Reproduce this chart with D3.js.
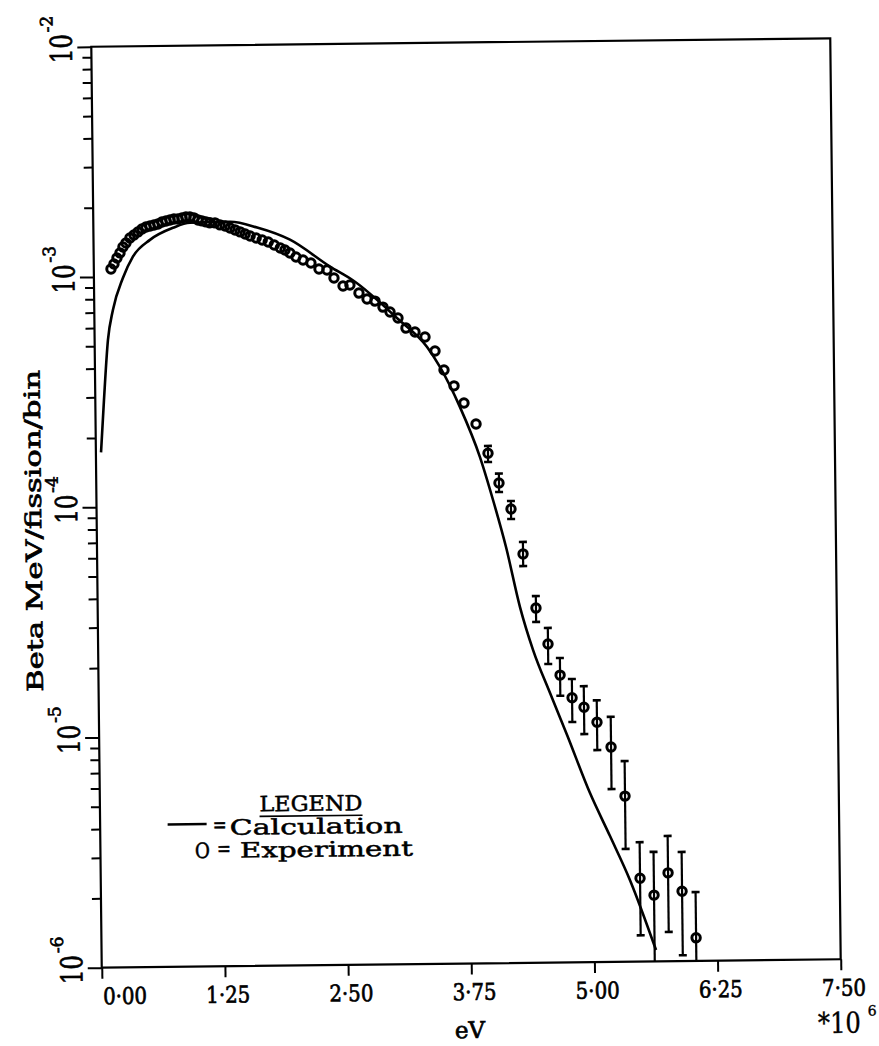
<!DOCTYPE html>
<html><head><meta charset="utf-8">
<script src="https://cdn.jsdelivr.net/npm/d3@7"></script>
<style>body{margin:0;background:#fff} svg{display:block}</style>
</head><body>
<svg id="c" width="879" height="1046"></svg>
<script>
// ---- data (energy in MeV, i.e. eV * 10^6) ----
const calcE = [0.052,0.088,0.135,0.189,0.294,0.398,0.573,0.808,0.981,1.387,1.662,1.994,2.397,2.631,3.082,3.373,3.501,3.700,3.897,4.024,4.151,4.286,4.414,4.581,4.749,4.975,5.173,5.371,5.627];
const calcV = [1.73e-4,2.92e-4,5.31e-4,7.17e-4,9.86e-4,1.22e-3,1.44e-3,1.62e-3,1.70e-3,1.71e-3,1.61e-3,1.42e-3,1.08e-3,9.37e-4,6.34e-4,4.78e-4,3.91e-4,2.61e-4,1.58e-4,1.03e-4,6.41e-5,3.51e-5,2.28e-5,1.48e-5,9.72e-6,5.42e-6,3.52e-6,2.26e-6,1.12e-6];

const expE = [0.174,0.205,0.236,0.267,0.298,0.329,0.370,0.411,0.452,0.493,0.534,0.575,0.616,0.656,0.697,0.738,0.779,0.819,0.860,0.901,0.941,0.981,1.022,1.063,1.103,1.144,1.184,1.235,1.286,1.337,1.387,1.438,1.489,1.540,1.590,1.651,1.712,1.773,1.834,1.895,1.942,1.992,2.053,2.124,2.204,2.285,2.366,2.436,2.527,2.597,2.688,2.769,2.850,2.930,3.001,3.081,3.161,3.252,3.353,3.453,3.542,3.642,3.741,3.861,3.979,4.087,4.206,4.323,4.448,4.566,4.685,4.804,4.924,5.054,5.194,5.330,5.473,5.613,5.758,5.898,6.035];
const expV = [1.081e-3,1.136e-3,1.206e-3,1.268e-3,1.345e-3,1.400e-3,1.471e-3,1.515e-3,1.561e-3,1.606e-3,1.638e-3,1.654e-3,1.670e-3,1.686e-3,1.720e-3,1.736e-3,1.753e-3,1.770e-3,1.769e-3,1.786e-3,1.803e-3,1.802e-3,1.784e-3,1.748e-3,1.730e-3,1.712e-3,1.696e-3,1.694e-3,1.660e-3,1.641e-3,1.607e-3,1.575e-3,1.543e-3,1.511e-3,1.480e-3,1.449e-3,1.420e-3,1.391e-3,1.349e-3,1.308e-3,1.281e-3,1.243e-3,1.193e-3,1.157e-3,1.122e-3,1.056e-3,1.044e-3,9.63e-4,8.88e-4,8.96e-4,8.26e-4,7.78e-4,7.61e-4,7.16e-4,6.81e-4,6.41e-4,5.79e-4,5.56e-4,5.28e-4,4.59e-4,3.79e-4,3.23e-4,2.72e-4,2.20e-4,1.64e-4,1.217e-4,9.37e-5,5.97e-5,3.47e-5,2.42e-5,1.77e-5,1.41e-5,1.28e-5,1.10e-5,8.57e-6,5.24e-6,2.30e-6,1.94e-6,2.42e-6,2.01e-6,1.26e-6];
// error bars (only for the high-energy points)
const errE  = [3.979,4.087,4.206,4.323,4.448,4.566,4.685,4.804,4.924,5.054,5.194,5.330,5.473,5.613,5.758,5.898,6.035];
const errLo = [1.503e-4,1.112e-4,8.48e-5,5.29e-5,3.02e-5,1.98e-5,1.44e-5,1.106e-5,9.79e-6,8.33e-6,5.63e-6,3.09e-6,1.30e-6,1.0e-6,1.34e-6,1.06e-6,1.0e-6];
const errHi = [1.765e-4,1.337e-4,1.015e-4,6.73e-5,3.91e-5,2.84e-5,2.10e-5,1.70e-5,1.58e-5,1.37e-5,1.16e-5,7.44e-6,3.30e-6,2.99e-6,3.50e-6,2.98e-6,1.99e-6];

const xTicks = [0,1.25,2.5,3.75,5,6.25,7.5];
const xTickLabels = ["0·00","1·25","2·50","3·75","5·00","6·25","7·50"];
const yDecades = [1e-6,1e-5,1e-4,1e-3,1e-2];
const yExponents = ["-6","-5","-4","-3","-2"];

// ---- layout ----
const L=96.5,R=835.5,T=42.5,B=963.5;
const FONT="DejaVu Serif";
const TS=0.7; // text stroke for a bolder print look
const x=d3.scaleLinear().domain([0,7.5]).range([L,R]);
const y=d3.scaleLog().domain([1e-6,1e-2]).range([B,T]);
const svg=d3.select("#c");
svg.append("rect").attr("width",879).attr("height",1046).attr("fill","#fff");
const g=svg.append("g").attr("transform","rotate(-0.65,466,503)");

// frame
g.append("rect").attr("x",L).attr("y",T).attr("width",R-L).attr("height",B-T)
  .attr("fill","none").attr("stroke","#000").attr("stroke-width",2.2);

// y ticks
const minor=[];
yDecades.slice(0,4).forEach(d=>{for(let k=2;k<=9;k++) minor.push(d*k);});
const yMaj=g.append("g").attr("transform",`translate(${L},0)`)
  .call(d3.axisLeft(y).tickValues(yDecades).tickSize(14).tickFormat(""));
const yMin=g.append("g").attr("transform",`translate(${L},0)`)
  .call(d3.axisLeft(y).tickValues(minor).tickSize(9).tickFormat(""));
[yMaj,yMin].forEach(a=>{a.select(".domain").remove();a.selectAll("line").attr("stroke","#000").attr("stroke-width",2);});

// x ticks
const xAx=g.append("g").attr("transform",`translate(0,${B})`)
  .call(d3.axisBottom(x).tickValues(xTicks).tickSize(11).tickFormat(""));
xAx.select(".domain").remove();
xAx.selectAll("line").attr("stroke","#000").attr("stroke-width",2);

// x tick labels
g.selectAll(".xl").data(xTicks).enter().append("text")
  .attr("x",(d,i)=>x(d)+(i===0?23:3)).attr("y",1000)
  .attr("text-anchor","middle").attr("font-family",FONT).attr("font-size",23)
  .attr("textLength",44).attr("lengthAdjust","spacingAndGlyphs")
  .attr("stroke","#000").attr("stroke-width",TS)
  .text((d,i)=>xTickLabels[i]);

// y tick labels (rotated)
yDecades.forEach((d,i)=>{
  const t=g.append("g").attr("transform",`translate(77,${y(d)+16}) rotate(-90)`)
    .append("text").attr("font-family",FONT).attr("stroke","#000").attr("stroke-width",TS);
  t.append("tspan").attr("font-size",30).attr("textLength",29).attr("lengthAdjust","spacingAndGlyphs").text("10");
  t.append("tspan").attr("font-size",17).attr("dy",-19).attr("dx",2).text(yExponents[i]);
});

// axis titles
g.append("g").attr("transform","translate(41,526) rotate(-90)")
  .append("text").attr("text-anchor","middle").attr("font-family",FONT).attr("font-size",22)
  .attr("stroke","#000").attr("stroke-width",TS)
  .attr("textLength",322).attr("lengthAdjust","spacingAndGlyphs")
  .text("Beta MeV/fission/bin");
g.append("text").attr("x",464).attr("y",1038).attr("text-anchor","middle")
  .attr("font-family",FONT).attr("font-size",23).attr("stroke","#000").attr("stroke-width",TS).text("eV");
g.append("text").attr("x",812).attr("y",1037).attr("font-family",FONT).attr("stroke","#000").attr("stroke-width",0.4)
  .attr("font-size",29).attr("textLength",43).attr("lengthAdjust","spacingAndGlyphs").text("*10");
g.append("text").attr("x",862).attr("y",1020).attr("font-family",FONT).attr("stroke","#000").attr("stroke-width",0.4)
  .attr("font-size",14).text("6");

// calculation curve
const calc=calcE.map((e,i)=>[e,calcV[i]]);
g.append("path").datum(calc)
  .attr("d",d3.line().x(d=>x(d[0])).y(d=>y(d[1])).curve(d3.curveMonotoneX))
  .attr("fill","none").attr("stroke","#000").attr("stroke-width",2.6);

// error bars
const err=errE.map((e,i)=>({e,lo:errLo[i],hi:errHi[i]}));
const eb=g.append("g").attr("stroke","#000").attr("stroke-width",2.2);
eb.selectAll(".v").data(err).enter().append("line")
  .attr("x1",d=>x(d.e)).attr("x2",d=>x(d.e)).attr("y1",d=>y(d.lo)).attr("y2",d=>y(d.hi));
eb.selectAll(".ct").data(err).enter().append("line")
  .attr("x1",d=>x(d.e)-4).attr("x2",d=>x(d.e)+4).attr("y1",d=>y(d.hi)).attr("y2",d=>y(d.hi)).attr("stroke-width",2.6);
eb.selectAll(".cb").data(err.filter(d=>d.lo>1.0e-6)).enter().append("line")
  .attr("x1",d=>x(d.e)-4).attr("x2",d=>x(d.e)+4).attr("y1",d=>y(d.lo)).attr("y2",d=>y(d.lo)).attr("stroke-width",2.6);

// experiment points
g.selectAll(".pt").data(expE.map((e,i)=>[e,expV[i]])).enter().append("circle")
  .attr("cx",d=>x(d[0])).attr("cy",d=>y(d[1])).attr("r",4.2)
  .attr("fill","none").attr("stroke","#000").attr("stroke-width",3);

// legend
const lg=g.append("g").attr("font-family",FONT).attr("font-size",21).attr("stroke","#000").attr("stroke-width",0.5);
lg.append("text").attr("x",307.5).attr("y",809).attr("text-anchor","middle")
  .attr("textLength",103).attr("lengthAdjust","spacingAndGlyphs").text("LEGEND");
lg.append("line").attr("x1",256).attr("x2",359).attr("y1",814).attr("y2",814).attr("stroke-width",1.6);
lg.append("line").attr("x1",164).attr("x2",203).attr("y1",821).attr("y2",821).attr("stroke-width",2.5);
lg.append("text").attr("x",209).attr("y",829).attr("textLength",14).attr("lengthAdjust","spacingAndGlyphs").text("=");
lg.append("text").attr("x",226).attr("y",832).attr("textLength",173).attr("lengthAdjust","spacingAndGlyphs").text("Calculation");
lg.append("text").attr("x",191).attr("y",855).attr("textLength",15).attr("lengthAdjust","spacingAndGlyphs").text("O");
lg.append("text").attr("x",213).attr("y",853).attr("textLength",14).attr("lengthAdjust","spacingAndGlyphs").text("=");
lg.append("text").attr("x",236).attr("y",855).attr("textLength",173).attr("lengthAdjust","spacingAndGlyphs").text("Experiment");
</script>
</body></html>
